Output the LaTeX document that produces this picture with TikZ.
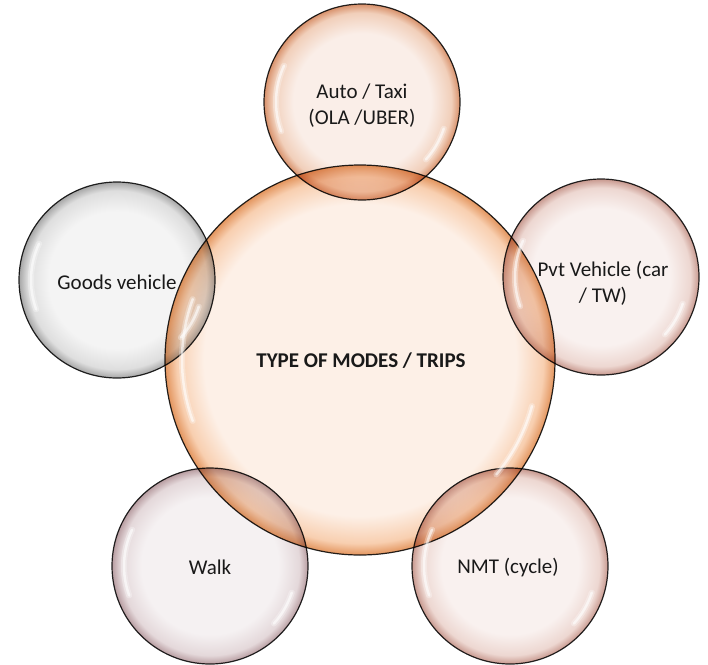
\documentclass[tikz,border=0pt]{standalone}
\usepackage{fontspec}
\setmainfont{Carlito}
\definecolor{cin}{HTML}{FDF0E7}
\definecolor{cmid}{HTML}{F8CFB0}
\definecolor{cout}{HTML}{E3955E}
\definecolor{pin}{HTML}{FAEEE8}
\definecolor{pmid}{HTML}{F1CFBA}
\definecolor{pout}{HTML}{D8916B}
\definecolor{gin}{HTML}{F4F4F4}
\definecolor{gmid}{HTML}{DEDEDE}
\definecolor{gout}{HTML}{A6A6A6}
\definecolor{rin}{HTML}{F9F1EF}
\definecolor{rmid}{HTML}{EDD7D1}
\definecolor{rout}{HTML}{C8998F}
\definecolor{win}{HTML}{F5F1F2}
\definecolor{wmid}{HTML}{E4D8DA}
\definecolor{wout}{HTML}{B89DA1}
\pgfdeclareradialshading{bubcentre}{\pgfpoint{0bp}{0bp}}{color(0bp)=(cin); color(20bp)=(cin); color(23.5bp)=(cmid); color(25bp)=(cout); color(50bp)=(cout)}
\pgfdeclareradialshading{bubpeach}{\pgfpoint{0bp}{0bp}}{color(0bp)=(pin); color(17.5bp)=(pin); color(22.8bp)=(pmid); color(25bp)=(pout); color(50bp)=(pout)}
\pgfdeclareradialshading{bubgrey}{\pgfpoint{0bp}{0bp}}{color(0bp)=(gin); color(17.5bp)=(gin); color(22.8bp)=(gmid); color(25bp)=(gout); color(50bp)=(gout)}
\pgfdeclareradialshading{bubrose}{\pgfpoint{0bp}{0bp}}{color(0bp)=(rin); color(17.5bp)=(rin); color(22.8bp)=(rmid); color(25bp)=(rout); color(50bp)=(rout)}
\pgfdeclareradialshading{bubwalk}{\pgfpoint{0bp}{0bp}}{color(0bp)=(win); color(17.5bp)=(win); color(22.8bp)=(wmid); color(25bp)=(wout); color(50bp)=(wout)}
\begin{document}
\begin{tikzpicture}[x=1pt,y=-1pt,
  bub/.style={circle, draw=black!85, line width=1.2pt, minimum size=196pt, inner sep=0pt},
  lbl/.style={align=center, inner sep=0pt, font=\fontsize{21}{26}\selectfont, text=black!90},
  glossw/.style={white, line width=6pt, line cap=round, opacity=0.3},
  gloss/.style={white, line width=2.5pt, line cap=round, opacity=0.6}]
\useasboundingbox (0,0) rectangle (708,664);
\begin{scope}[blend mode=multiply]
\node[bub, minimum size=390pt, shading=bubcentre] (main) at (360,360) {};
\node[bub, shading=bubpeach] (auto) at (362,102) {};
\node[bub, shading=bubgrey] (goods) at (117,280) {};
\node[bub, shading=bubrose] (pvt) at (601,277) {};
\node[bub, shading=bubwalk] (walk) at (210,566) {};
\node[bub, shading=bubrose] (nmt) at (510,566) {};
\end{scope}
% glossy highlights
\foreach \s in {glossw,gloss}{
  \draw[\s] (main.center) ++(160:178) arc[start angle=160, end angle=200, radius=178];
  \draw[\s] (main.center) ++(15:178) arc[start angle=15, end angle=40, radius=178];
  \foreach \n in {auto,goods,pvt,walk,nmt}{
    \draw[\s] (\n.center) ++(160:86) arc[start angle=160, end angle=205, radius=86];
    \draw[\s] (\n.center) ++(18:86) arc[start angle=18, end angle=42, radius=86];
  }
}
\node[lbl, font=\bfseries\fontsize{21}{26}\selectfont] (maint) at (361,361) {TYPE OF MODES / TRIPS};
\node[lbl] (autot) at (362,106) {Auto / Taxi\\(OLA /UBER)};
\node[lbl] (goodst) at (117,282) {Goods vehicle};
\node[lbl] (pvtt) at (603,283) {Pvt Vehicle (car\\/ TW)};
\node[lbl] (walkt) at (210,567) {Walk};
\node[lbl] (nmtt) at (508,567) {NMT (cycle)};
\end{tikzpicture}
\end{document}
